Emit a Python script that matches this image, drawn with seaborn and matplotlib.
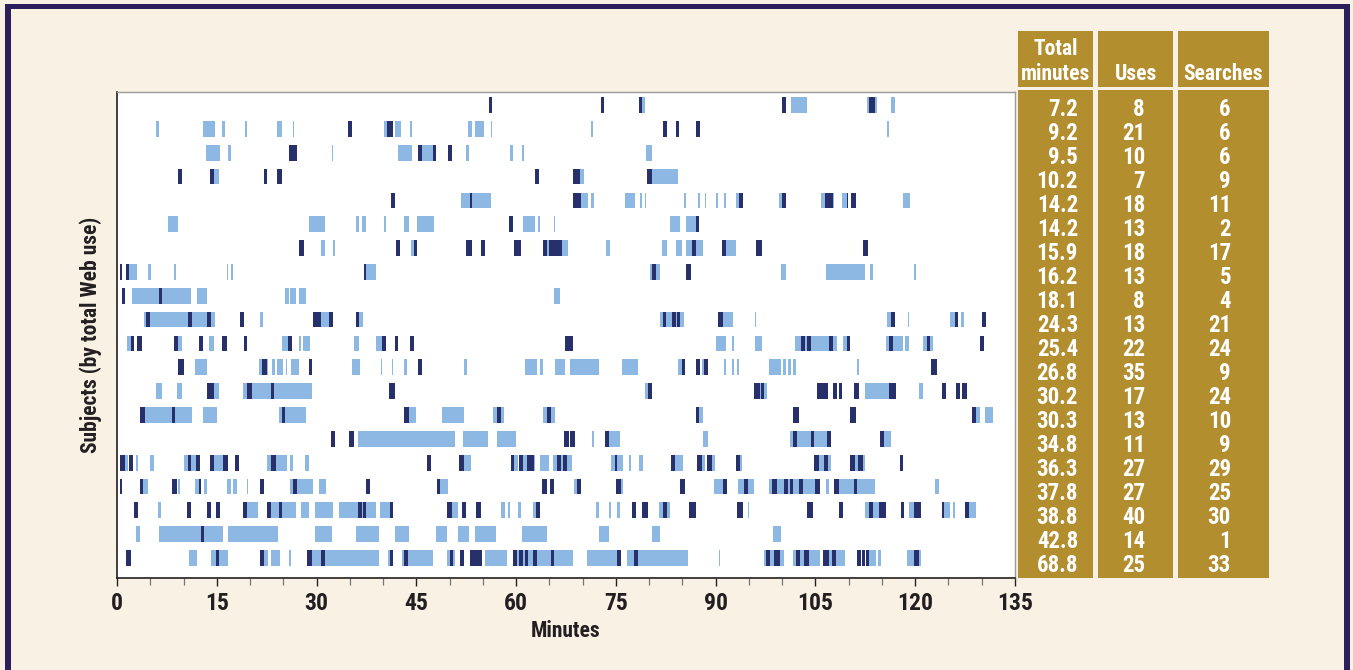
import pandas as pd
import seaborn as sns
import matplotlib.pyplot as plt
from matplotlib.patches import Rectangle
from matplotlib.ticker import MultipleLocator

# ---- data: (start minute, end minute, kind)  u = Web use, s = search ----
row01 = [(55.9,56.4,'s'),(72.7,73.2,'s'),(78.4,79.0,'s'),(79.0,79.4,'u'),(100.0,100.6,'s'),(101.4,103.8,'u'),
         (112.8,113.1,'u'),(113.1,114.0,'s'),(114.0,114.2,'u'),(116.3,117.0,'u')]
row02 = [(5.8,6.3,'u'),(13.0,14.8,'u'),(15.8,16.2,'u'),(19.2,19.5,'u'),(24.0,24.8,'u'),(26.4,26.6,'u'),(34.8,35.4,'s'),
         (40.2,40.6,'u'),(40.6,41.5,'s'),(41.8,42.7,'u'),(44.1,44.4,'u'),(52.7,53.4,'u'),(53.8,55.1,'u'),(56.2,56.4,'u'),
         (71.3,71.5,'u'),(82.1,82.7,'s'),(84.0,84.5,'s'),(87.0,87.6,'s'),(115.7,116.0,'u')]
row03 = [(13.4,15.5,'u'),(16.7,17.2,'u'),(25.9,27.1,'s'),(32.3,32.5,'u'),(42.3,44.3,'u'),(45.2,45.9,'s'),(45.9,47.6,'u'),
         (47.5,48.0,'s'),(49.7,50.3,'s'),(52.5,52.9,'u'),(59.1,59.5,'u'),(60.9,61.2,'u'),(79.6,80.4,'u')]
row04 = [(9.1,9.7,'s'),(14.0,14.6,'s'),(14.6,15.3,'u'),(22.1,22.6,'s'),(24.1,24.8,'s'),(62.9,63.5,'s'),(68.6,69.6,'s'),
         (69.6,70.2,'u'),(79.7,80.4,'s'),(80.4,84.4,'u')]
row05 = [(41.2,41.8,'s'),(51.7,53.0,'u'),(53.0,53.4,'s'),(53.4,56.2,'u'),(68.6,69.7,'s'),(69.7,70.8,'u'),(71.3,71.7,'u'),
         (76.3,77.8,'u'),(78.6,78.9,'u'),(79.4,79.6,'u'),(85.3,85.5,'u'),(87.4,87.6,'u'),(88.4,88.6,'u'),(90.0,90.4,'u'),
         (91.2,91.6,'u'),(93.1,93.5,'u'),(93.5,94.1,'s'),(99.5,100.0,'u'),(100.0,100.5,'s'),(105.9,106.4,'u'),
         (106.4,107.6,'s'),(107.6,107.8,'u'),(109.0,109.7,'u'),(109.7,109.9,'s'),(110.4,111.1,'s'),(118.2,119.2,'u')]
row06 = [(7.7,9.2,'u'),(28.8,31.2,'u'),(36.0,36.4,'u'),(36.9,37.5,'u'),(40.1,40.5,'u'),(43.2,43.9,'u'),(45.1,47.7,'u'),
         (58.9,59.5,'s'),(61.0,62.8,'u'),(63.3,63.6,'u'),(65.7,65.9,'u'),(83.2,84.6,'u'),(85.5,87.0,'u'),(87.0,87.5,'s')]
row07 = [(27.3,28.1,'s'),(30.7,31.2,'u'),(32.5,32.8,'u'),(41.9,42.5,'s'),(44.2,44.6,'u'),(44.6,45.1,'s'),(52.5,53.3,'s'),
         (54.7,55.3,'s'),(59.7,60.7,'s'),(64.1,64.6,'s'),(64.6,65.0,'u'),(65.0,66.9,'s'),(66.9,67.8,'u'),(73.5,74.1,'u'),
         (82.0,82.7,'u'),(84.1,84.9,'u'),(85.5,86.4,'u'),(86.4,87.0,'s'),(87.0,88.1,'u'),(91.0,91.6,'s'),(91.6,93.1,'u'),
         (96.1,96.9,'s'),(112.1,112.9,'s')]
row08 = [(0.5,0.7,'s'),(1.4,1.8,'s'),(1.8,3.0,'u'),(4.7,5.1,'u'),(8.6,8.9,'u'),(16.5,16.7,'u'),(17.1,17.4,'u'),
         (37.1,37.5,'s'),(37.5,39.0,'u'),(80.1,80.5,'u'),(80.5,81.1,'s'),(81.1,81.7,'u'),(85.6,86.3,'s'),(99.8,100.6,'u'),
         (106.6,112.5,'u'),(113.2,113.7,'u'),(119.8,120.1,'u')]
row09 = [(0.7,1.2,'s'),(2.2,6.3,'u'),(6.3,6.8,'s'),(6.8,11.1,'u'),(12.0,13.6,'u'),(25.3,25.8,'u'),(26.0,26.9,'u'),
         (27.4,28.4,'u'),(65.7,66.6,'u')]
row10 = [(4.0,4.4,'u'),(4.4,5.0,'s'),(5.0,10.6,'u'),(10.6,11.3,'s'),(11.3,13.6,'u'),(13.6,14.1,'s'),(14.1,14.8,'u'),
         (18.5,19.1,'s'),(21.5,21.9,'u'),(29.4,30.7,'s'),(30.7,31.8,'u'),(31.8,32.4,'s'),(35.9,36.4,'s'),(36.4,37.0,'u'),
         (81.7,82.1,'u'),(82.1,82.6,'s'),(82.6,83.5,'u'),(83.5,84.0,'s'),(84.0,84.2,'u'),(84.2,84.6,'s'),(84.6,85.2,'u'),
         (90.4,91.1,'s'),(91.1,92.6,'u'),(95.9,96.1,'u'),(115.8,116.4,'u'),(116.4,117.0,'s'),(118.9,119.1,'u'),
         (125.2,126.0,'u'),(126.0,126.5,'s'),(126.9,127.4,'u'),(130.1,130.7,'s')]
row11 = [(1.5,2.1,'u'),(2.1,2.6,'s'),(3.0,3.7,'s'),(8.5,9.2,'s'),(9.2,9.7,'u'),(12.3,13.0,'s'),(13.9,14.6,'u'),
         (15.8,16.5,'s'),(19.1,19.6,'s'),(24.8,25.7,'u'),(25.7,26.3,'s'),(27.4,27.6,'u'),(28.0,29.0,'u'),(35.7,36.4,'u'),
         (38.9,39.8,'u'),(39.8,40.4,'s'),(41.8,42.3,'s'),(44.0,44.6,'s'),(67.4,68.6,'s'),(90.0,91.6,'u'),(92.4,92.8,'u'),
         (95.9,96.9,'u'),(102.0,102.8,'u'),(102.8,103.4,'s'),(103.4,103.8,'u'),(103.8,104.3,'s'),(104.3,107.0,'u'),
         (107.0,107.6,'s'),(107.6,108.2,'u'),(109.2,109.7,'u'),(109.7,110.2,'s'),(115.6,116.1,'u'),(116.1,116.6,'s'),
         (116.6,118.2,'u'),(118.4,119.1,'u'),(121.2,121.7,'u'),(121.7,122.2,'s'),(122.2,122.7,'u'),(129.7,130.3,'s')]
row12 = [(9.1,10.1,'s'),(11.7,13.6,'u'),(21.4,21.8,'u'),(21.8,22.5,'s'),(22.5,22.7,'u'),(23.3,23.7,'u'),(24.0,24.9,'u'),
         (25.4,25.6,'u'),(26.2,27.3,'u'),(28.8,29.3,'s'),(35.4,36.5,'u'),(39.7,39.9,'u'),(41.3,41.5,'u'),(43.2,43.6,'u'),
         (45.3,45.8,'s'),(52.2,52.6,'u'),(61.4,63.2,'u'),(63.6,64.0,'u'),(65.9,67.3,'u'),(68.1,72.5,'u'),(75.9,78.3,'u'),
         (84.4,84.9,'u'),(84.9,85.4,'s'),(87.0,87.6,'s'),(88.0,88.2,'u'),(88.2,88.9,'s'),(91.2,91.6,'u'),(92.4,92.7,'u'),
         (93.2,93.5,'u'),(98.0,99.8,'u'),(100.1,100.5,'u'),(100.9,101.3,'u'),(101.6,102.1,'u'),(111.3,111.5,'u'),
         (122.4,123.2,'s')]
row13 = [(5.8,6.8,'u'),(9.0,9.8,'u'),(13.6,14.6,'s'),(14.6,15.3,'u'),(18.9,19.5,'u'),(19.5,20.3,'s'),(20.3,23.1,'u'),
         (23.1,23.6,'s'),(23.6,29.3,'u'),(40.9,41.8,'s'),(79.4,79.9,'u'),(79.9,80.4,'s'),(95.8,96.6,'s'),(96.6,96.8,'u'),
         (96.8,97.2,'s'),(97.2,97.7,'u'),(105.3,106.9,'s'),(107.6,108.2,'s'),(108.5,109.0,'s'),(110.8,111.5,'s'),
         (112.4,116.1,'u'),(116.1,117.1,'s'),(120.6,121.2,'u'),(124.0,124.7,'s'),(126.1,126.7,'s'),(127.1,127.8,'s')]
row14 = [(3.5,4.2,'s'),(4.2,8.2,'u'),(8.2,8.7,'s'),(8.7,11.3,'u'),(12.9,15.1,'u'),(24.4,24.8,'u'),(24.8,25.3,'s'),
         (25.3,28.4,'u'),(43.2,43.9,'s'),(43.9,44.9,'u'),(48.9,52.2,'u'),(56.5,57.2,'u'),(57.2,57.7,'s'),(57.7,58.2,'u'),
         (64.1,64.7,'u'),(64.7,65.3,'s'),(65.3,65.9,'u'),(87.0,87.5,'s'),(87.5,88.1,'u'),(101.7,102.6,'s'),
         (110.2,111.1,'s'),(128.5,129.1,'s'),(129.1,129.8,'u'),(130.5,131.7,'u')]
row15 = [(32.1,32.8,'s'),(34.9,35.7,'s'),(36.3,50.8,'u'),(52.0,55.7,'u'),(57.2,60.0,'u'),(67.2,67.9,'s'),(68.1,68.8,'s'),
         (71.4,71.7,'u'),(73.3,74.0,'s'),(74.0,75.6,'u'),(88.1,88.8,'u'),(101.2,101.7,'u'),(101.7,102.2,'s'),
         (102.2,104.3,'u'),(104.3,104.8,'s'),(104.8,106.8,'u'),(106.8,107.3,'s'),(114.7,115.3,'s'),(115.3,116.3,'u')]
row16 = [(0.5,1.2,'s'),(1.2,1.7,'u'),(1.8,2.4,'s'),(2.8,3.2,'u'),(4.9,5.6,'u'),(10.1,10.6,'u'),(10.6,11.1,'s'),
         (11.1,11.9,'u'),(11.9,12.5,'s'),(14.0,14.6,'s'),(14.6,16.0,'u'),(16.0,16.7,'s'),(17.7,18.4,'s'),(22.6,23.1,'u'),
         (23.1,23.9,'s'),(23.9,25.5,'u'),(26.0,26.4,'u'),(28.3,28.8,'u'),(46.6,47.2,'s'),(51.4,52.1,'s'),(52.1,53.2,'u'),
         (59.2,59.7,'s'),(59.7,60.3,'u'),(60.4,61.1,'s'),(61.1,61.6,'u'),(61.6,62.7,'s'),(62.7,62.9,'u'),(63.6,65.0,'u'),
         (65.5,66.1,'u'),(66.1,66.7,'s'),(66.7,67.1,'u'),(67.1,67.7,'s'),(67.7,68.4,'u'),(74.3,74.8,'u'),(74.8,75.2,'s'),
         (75.2,76.0,'u'),(76.9,77.2,'u'),(78.5,79.1,'u'),(83.3,83.9,'s'),(83.9,85.1,'u'),(87.2,88.0,'s'),(88.0,88.4,'u'),
         (88.7,89.4,'s'),(89.4,89.9,'u'),(93.0,93.6,'s'),(93.6,94.0,'u'),(104.8,105.6,'s'),(105.6,106.3,'u'),
         (106.3,106.9,'s'),(106.9,107.3,'u'),(110.2,110.9,'s'),(110.9,111.4,'u'),(111.4,112.1,'s'),(112.1,112.5,'u'),
         (117.7,118.2,'s')]
row17 = [(0.5,0.7,'s'),(3.4,3.9,'s'),(3.9,4.6,'u'),(8.3,9.0,'s'),(9.1,9.4,'u'),(11.8,12.3,'u'),(12.3,12.7,'s'),
         (13.1,13.6,'u'),(16.5,17.2,'u'),(17.5,18.1,'u'),(19.5,19.7,'u'),(21.5,22.1,'s'),(26.0,26.5,'u'),(26.5,27.0,'s'),
         (27.0,29.5,'u'),(30.4,31.4,'u'),(37.4,38.0,'s'),(48.1,48.6,'s'),(48.6,49.8,'u'),(63.9,64.6,'s'),(65.1,65.7,'s'),
         (68.7,69.2,'u'),(69.2,69.8,'s'),(75.0,75.7,'s'),(75.7,76.0,'u'),(84.7,85.4,'s'),(89.8,91.1,'u'),(91.1,91.7,'s'),
         (93.4,94.3,'u'),(94.3,94.8,'s'),(94.8,95.7,'u'),(98.0,98.5,'u'),(98.5,99.2,'s'),(99.2,100.2,'u'),
         (100.2,100.8,'s'),(100.8,101.2,'u'),(101.2,101.7,'s'),(101.7,102.6,'u'),(102.6,103.1,'s'),(103.1,104.9,'u'),
         (104.9,105.7,'s'),(106.6,107.0,'u'),(107.8,108.5,'s'),(108.5,110.8,'u'),(110.8,111.2,'s'),(111.2,113.9,'u'),
         (122.9,123.6,'u')]
row18 = [(2.6,3.2,'s'),(6.1,6.6,'u'),(10.5,11.1,'s'),(13.5,14.1,'s'),(14.9,15.5,'s'),(18.9,19.5,'s'),(19.5,21.2,'u'),
         (22.5,23.1,'s'),(23.1,24.3,'u'),(24.3,24.8,'s'),(24.8,26.9,'u'),(27.6,28.8,'u'),(29.8,32.5,'u'),(33.3,36.3,'u'),
         (36.3,36.8,'s'),(36.8,37.0,'u'),(37.0,37.5,'s'),(37.5,38.9,'u'),(39.6,41.0,'u'),(41.0,41.5,'s'),(49.6,50.4,'s'),
         (50.4,51.3,'u'),(51.8,52.4,'s'),(53.9,54.7,'s'),(57.8,58.3,'u'),(58.8,59.1,'u'),(60.3,60.7,'u'),(62.6,63.0,'u'),
         (63.0,63.6,'s'),(72.0,72.5,'u'),(74.0,74.2,'u'),(75.1,75.6,'u'),(77.4,78.0,'s'),(79.0,79.9,'s'),(81.5,82.1,'u'),
         (82.1,82.7,'s'),(82.7,83.2,'u'),(86.0,87.0,'s'),(93.2,94.1,'s'),(94.8,95.0,'u'),(103.8,104.7,'s'),
         (108.6,109.2,'s'),(112.4,113.1,'u'),(113.1,113.7,'s'),(113.7,114.6,'u'),(114.6,115.6,'s'),(117.8,118.3,'s'),
         (119.1,119.8,'u'),(119.8,120.8,'s'),(124.0,124.4,'s'),(124.4,125.2,'u'),(125.7,126.0,'u'),(127.5,128.1,'s'),
         (128.1,129.1,'u')]
row19 = [(2.8,3.4,'u'),(6.3,12.6,'u'),(12.6,13.1,'s'),(13.1,16.0,'u'),(16.7,24.2,'u'),(29.8,32.3,'u'),(35.9,39.4,'u'),
         (41.8,43.9,'u'),(48.0,49.6,'u'),(51.3,52.9,'u'),(53.8,57.0,'u'),(60.9,64.7,'u'),(72.4,74.0,'u'),(80.4,81.7,'u'),
         (98.6,99.8,'u')]
row20 = [(1.4,2.1,'s'),(10.8,12.0,'u'),(14.1,14.9,'u'),(14.9,15.4,'s'),(15.4,16.7,'u'),(21.5,22.1,'s'),(22.1,22.7,'u'),
         (23.1,24.5,'u'),(25.8,26.2,'u'),(28.6,29.3,'s'),(29.3,30.7,'u'),(30.7,31.2,'s'),(31.2,39.4,'u'),(40.7,41.0,'u'),
         (41.0,41.5,'s'),(42.8,43.2,'u'),(43.2,43.7,'s'),(43.7,47.5,'u'),(49.6,50.0,'u'),(50.0,50.5,'s'),(50.5,50.8,'u'),
         (51.5,52.2,'s'),(53.0,54.8,'s'),(55.3,58.6,'u'),(59.6,60.2,'s'),(60.2,60.4,'u'),(60.4,61.0,'s'),(61.0,61.3,'u'),
         (61.3,61.8,'s'),(61.8,62.6,'u'),(62.6,63.2,'s'),(63.2,65.2,'u'),(65.2,65.7,'s'),(65.7,68.5,'u'),(70.6,75.1,'u'),
         (75.1,75.7,'s'),(76.7,77.7,'u'),(77.7,78.3,'s'),(78.3,85.8,'u'),(90.5,90.7,'u'),(97.2,97.6,'u'),(97.6,98.2,'s'),
         (98.2,98.8,'u'),(98.8,99.6,'s'),(99.6,100.2,'u'),(101.6,102.1,'u'),(102.1,102.7,'s'),(102.7,103.3,'u'),
         (103.3,104.0,'s'),(104.0,105.7,'u'),(106.2,107.0,'s'),(107.0,107.5,'u'),(107.5,108.1,'s'),(108.1,109.5,'u'),
         (111.2,111.8,'s'),(112.0,112.5,'s'),(112.6,113.1,'s'),(113.1,114.1,'u'),(114.4,114.8,'u'),(118.7,119.8,'u'),
         (119.8,120.6,'s'),(120.6,120.8,'u')]

rows = [row01, row02, row03, row04, row05, row06, row07, row08, row09, row10,
        row11, row12, row13, row14, row15, row16, row17, row18, row19, row20]

total_minutes = ['7.2', '9.2', '9.5', '10.2', '14.2', '14.2', '15.9', '16.2', '18.1', '24.3',
                 '25.4', '26.8', '30.2', '30.3', '34.8', '36.3', '37.8', '38.8', '42.8', '68.8']
uses = [8, 21, 10, 7, 18, 13, 18, 13, 8, 13, 22, 35, 17, 13, 11, 27, 27, 40, 14, 25]
searches = [6, 6, 6, 9, 11, 2, 17, 5, 4, 21, 24, 9, 24, 10, 9, 29, 25, 30, 1, 33]
x_ticks = [0, 15, 30, 45, 60, 75, 90, 105, 120, 135]

records = [(i, a, b, k) for i, r in enumerate(rows) for a, b, k in r]
df = pd.DataFrame(records, columns=['subject', 'start', 'end', 'kind'])
df['length'] = df['end'] - df['start']

# ---- style ----
sns.set_style('white')
plt.rcParams['font.family'] = ['Roboto Condensed', 'Liberation Sans Narrow', 'Roboto', 'DejaVu Sans']
plt.rcParams['font.weight'] = 'bold'
plt.rcParams['font.stretch'] = 'condensed'

CREAM = '#f8f1e4'
GOLD = '#b38e2e'
LIGHT = '#8db8e3'
DARK = '#27306b'
BORDER = '#2b1f5c'
W, H = 1353, 670

fig = plt.figure(figsize=(W / 100, H / 100), dpi=100, facecolor=CREAM)
ax = fig.add_axes([117 / W, 1 - 578 / H, 898 / W, 486 / H])
ax.set_facecolor('white')

colors = {'u': LIGHT, 's': DARK}
for kind in ['u', 's']:
    sub = df[df['kind'] == kind]
    ax.barh(sub['subject'], sub['length'], left=sub['start'], height=0.66,
            color=colors[kind], linewidth=0)

ax.set_xlim(0, 135)
ax.set_ylim(19.84, -0.55)
ax.set_yticks([])
ax.set_xticks(x_ticks)
ax.xaxis.set_minor_locator(MultipleLocator(5))
ax.tick_params(axis='x', which='major', length=6, width=1, color='#222222',
               labelsize=17, labelcolor='#231f20', pad=4, bottom=True)
ax.tick_params(axis='x', which='minor', length=5, width=0.9, color='#777777', bottom=True)
for side in ['left', 'bottom']:
    ax.spines[side].set_color('#231f20')
    ax.spines[side].set_linewidth(1.2)
for side in ['top', 'right']:
    ax.spines[side].set_color('#9a9a9a')
    ax.spines[side].set_linewidth(1)
ax.set_xlabel('Minutes', fontsize=15.5, color='#231f20', labelpad=4, fontweight='bold')
ax.set_ylabel('Subjects (by total Web use)', fontsize=15.5, color='#231f20', labelpad=11, fontweight='bold')

# ---- table on the right ----
def fx(x):
    return x / W

def fy(y):
    return 1 - y / H

cols = [(1018, 1093), (1098, 1173), (1178, 1269)]
for x0, x1 in cols:
    fig.patches.append(Rectangle((fx(x0), fy(87)), fx(x1 - x0), 56 / H, transform=fig.transFigure,
                                 facecolor=GOLD, edgecolor='none'))
    fig.patches.append(Rectangle((fx(x0), fy(578)), fx(x1 - x0), 488 / H, transform=fig.transFigure,
                                 facecolor=GOLD, edgecolor='none'))

hdr = dict(color='white', fontsize=15.5, fontweight='bold', ha='center', va='baseline')
fig.text(fx(1055.5), fy(55), 'Total', **hdr)
fig.text(fx(1055.5), fy(80), 'minutes', **hdr)
fig.text(fx(1135.5), fy(80), 'Uses', **hdr)
fig.text(fx(1223.5), fy(80), 'Searches', **hdr)

body = dict(color='white', fontsize=16.5, fontweight='bold', ha='right', va='baseline')
for i in range(len(total_minutes)):
    y = fy(116.5 + i * 23.95)
    fig.text(fx(1078), y, total_minutes[i], **body)
    fig.text(fx(1145), y, str(uses[i]), **body)
    fig.text(fx(1231), y, str(searches[i]), **body)

# ---- frame around the figure ----
fig.patches.append(Rectangle((fx(5), fy(9)), fx(1345), 5 / H, transform=fig.transFigure,
                             facecolor=BORDER, edgecolor='none'))
fig.patches.append(Rectangle((fx(5), 0), fx(5.5), fy(4), transform=fig.transFigure,
                             facecolor=BORDER, edgecolor='none'))
fig.patches.append(Rectangle((fx(1344), 0), fx(6), fy(4), transform=fig.transFigure,
                             facecolor=BORDER, edgecolor='none'))

fig.savefig('out.png', dpi=100, facecolor=CREAM)
